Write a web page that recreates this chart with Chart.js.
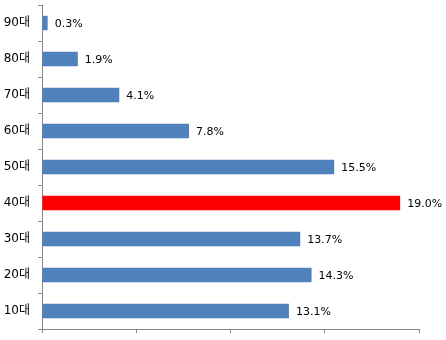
<!DOCTYPE html>
<html>
<head>
<meta charset="utf-8">
<script src="https://cdn.jsdelivr.net/npm/chart.js@4/dist/chart.umd.min.js"></script>
<style>
  html, body { margin: 0; padding: 0; background: #fff; }
  #wrap { width: 446px; height: 340px; }
</style>
</head>
<body>
<div id="wrap"><canvas id="ageChart"></canvas></div>
<script>
const ageGroups = ['90대', '80대', '70대', '60대', '50대', '40대', '30대', '20대', '10대'];
const shares = [0.3, 1.9, 4.1, 7.8, 15.5, 19.0, 13.7, 14.3, 13.1];
const highlightGroup = '40대';

const barColors = ageGroups.map(g => g === highlightGroup ? '#FF0000' : '#4F81BD');

// draw "x.x%" just right of each bar
const valueLabels = {
  id: 'valueLabels',
  afterDatasetsDraw(chart) {
    const ctx = chart.ctx;
    const meta = chart.getDatasetMeta(0);
    ctx.save();
    ctx.font = '11px "DejaVu Sans", sans-serif';
    ctx.fillStyle = '#000';
    ctx.textAlign = 'left';
    ctx.textBaseline = 'middle';
    meta.data.forEach((bar, i) => {
      ctx.fillText(shares[i].toFixed(1) + '%', bar.x + 7, bar.y + 1);
    });
    ctx.restore();
  }
};

new Chart(document.getElementById('ageChart'), {
  type: 'bar',
  data: {
    labels: ageGroups,
    datasets: [{
      data: shares,
      backgroundColor: barColors,
      borderWidth: 0,
      barPercentage: 0.8,
      categoryPercentage: 0.5
    }]
  },
  options: {
    indexAxis: 'y',
    responsive: true,
    maintainAspectRatio: false,
    animation: false,
    layout: { padding: { top: 5, right: 27, left: 0, bottom: 0 } },
    plugins: {
      legend: { display: false },
      tooltip: { enabled: false }
    },
    scales: {
      x: {
        min: 0,
        max: 20,
        ticks: { stepSize: 5, display: false },
        grid: { drawOnChartArea: false, drawTicks: true, tickLength: 4, color: '#868686' },
        border: { color: '#868686' },
        afterFit(scale) { scale.height = 11; }
      },
      y: {
        ticks: {
          color: '#000',
          padding: 8,
          font: { family: '"DejaVu Sans", "Noto Sans CJK KR", sans-serif', size: 12 }
        },
        grid: { drawOnChartArea: false, drawTicks: true, tickLength: 4, color: '#868686', offset: true },
        border: { color: '#868686' },
        afterFit(scale) {
          scale.width = 42;
          scale.paddingTop = 0;
          scale.paddingBottom = 0;
        }
      }
    }
  },
  plugins: [valueLabels]
});
</script>
</body>
</html>
